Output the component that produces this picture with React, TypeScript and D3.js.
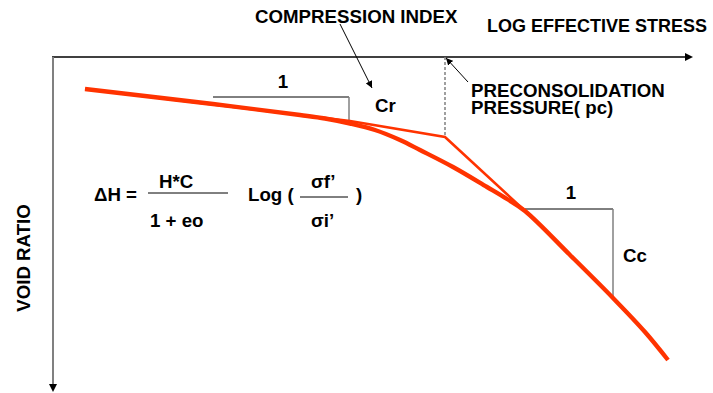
import React from "react";
import * as d3 from "d3";

// Abstract units: log effective stress (x) and void ratio (y)
const virginLogStress = [3.2, 16.0, 24.7, 27.2, 29.7, 32.2, 34.7, 36.7, 40.0, 43.4, 45.4, 47.2, 51.7, 56.0, 59.2, 61.5];
const virginVoidRatio = [30.2, 28.7, 27.6, 27.25, 26.75, 26.1, 25.1, 24.1, 22.4, 20.4, 19.2, 18.0, 13.6, 9.3, 5.9, 3.1];

const bilinearLogStress = [3.2, 29.7, 39.2, 47.0];
const bilinearVoidRatio = [30.2, 27.0, 25.4, 18.2];

const preconsolidation = 39.2;
const crTriangle = { x0: 16.0, x1: 29.6, y0: 29.4, y1: 27.0 };
const ccTriangle = { x0: 47.2, x1: 56.0, y0: 18.2, y1: 9.4 };

const W = 713;
const H = 393;
const RED = "#ff3300";
const FONT = "'Liberation Sans', Arial, sans-serif";

export default function App() {
  const x = d3.scaleLinear().domain([0, 64]).range([53, 693]);
  const y = d3.scaleLinear().domain([0, 33.4]).range([391, 57]);

  const virgin = virginLogStress.map((v, i) => [v, virginVoidRatio[i]] as [number, number]);
  const bilinear = bilinearLogStress.map((v, i) => [v, bilinearVoidRatio[i]] as [number, number]);

  const curveGen = d3
    .line<[number, number]>()
    .x((d) => x(d[0]))
    .y((d) => y(d[1]))
    .curve(d3.curveCatmullRom.alpha(0.5));
  const lineGen = d3
    .line<[number, number]>()
    .x((d) => x(d[0]))
    .y((d) => y(d[1]));

  const axisY = y(33.4);
  const txt = { fontFamily: FONT, fontWeight: 700, fontSize: 18.7, fill: "#000" } as const;

  return (
    <svg
      width={W}
      height={H}
      style={{ position: "absolute", left: 0, top: 0, background: "#fff" }}
    >
      <defs>
        <marker id="ah" viewBox="0 0 10 10" refX="10" refY="5" markerWidth="7" markerHeight="7" orient="auto" markerUnits="userSpaceOnUse">
          <path d="M0,0 L10,5 L0,10 z" fill="#000" />
        </marker>
      </defs>

      {/* axes */}
      <line x1={52} y1={axisY} x2={686} y2={axisY} stroke="#000" strokeWidth={1.3} />
      <path d={`M685,${axisY - 4} L693,${axisY} L685,${axisY + 4} Z`} fill="#000" />
      <line x1={53} y1={axisY} x2={53} y2={385} stroke="#808080" strokeWidth={2} />
      <path d={`M49,384 L53,392 L57,384 Z`} fill="#000" />

      {/* preconsolidation dashed */}
      <line
        x1={x(preconsolidation)}
        y1={axisY}
        x2={x(preconsolidation)}
        y2={y(bilinearVoidRatio[2])}
        stroke="#808080"
        strokeWidth={1.5}
        strokeDasharray="3,2"
      />

      {/* slope triangles */}
      <line x1={x(crTriangle.x0)} y1={y(crTriangle.y0)} x2={x(crTriangle.x1)} y2={y(crTriangle.y0)} stroke="#000" strokeWidth={1} />
      <line x1={x(crTriangle.x1)} y1={y(crTriangle.y0)} x2={x(crTriangle.x1)} y2={y(crTriangle.y1)} stroke="#808080" strokeWidth={1.5} />
      <line x1={x(ccTriangle.x0)} y1={y(ccTriangle.y0)} x2={x(ccTriangle.x1)} y2={y(ccTriangle.y0)} stroke="#000" strokeWidth={1} />
      <line x1={x(ccTriangle.x1)} y1={y(ccTriangle.y0)} x2={x(ccTriangle.x1)} y2={y(ccTriangle.y1)} stroke="#808080" strokeWidth={1.5} />

      {/* curves */}
      <path d={lineGen(bilinear) || ""} fill="none" stroke={RED} strokeWidth={2.6} strokeLinejoin="miter" />
      <path d={curveGen(virgin) || ""} fill="none" stroke={RED} strokeWidth={4.4} />

      {/* leader lines */}
      <line x1={340} y1={24} x2={372} y2={88} stroke="#000" strokeWidth={1} markerEnd="url(#ah)" />
      <line x1={468} y1={82} x2={446} y2={58} stroke="#000" strokeWidth={1} markerEnd="url(#ah)" />

      {/* labels */}
      <text x={255} y={23} style={txt}>COMPRESSION INDEX</text>
      <text x={487} y={32} style={{ ...txt, fontSize: 18 }}>LOG EFFECTIVE STRESS</text>
      <text x={471} y={97} style={txt}>PRECONSOLIDATION</text>
      <text x={471} y={114} style={txt}>PRESSURE( pc)</text>
      <text x={283} y={88} textAnchor="middle" style={txt}>1</text>
      <text x={375} y={112} style={txt}>Cr</text>
      <text x={571} y={199} textAnchor="middle" style={txt}>1</text>
      <text x={623} y={262} style={txt}>Cc</text>
      <text transform="translate(29.5,258) rotate(-90)" textAnchor="middle" style={txt}>VOID RATIO</text>

      {/* formula */}
      <text x={94} y={201} style={txt}>ΔH =</text>
      <text x={159} y={188} style={txt}>H*C</text>
      <line x1={148} y1={193} x2={228} y2={193} stroke="#000" strokeWidth={1} />
      <text x={150} y={227} style={txt}>1 + eo</text>
      <text x={248} y={201} style={txt}>Log (</text>
      <text x={311} y={188} style={txt}>σf’</text>
      <line x1={300} y1={197} x2={348} y2={197} stroke="#000" strokeWidth={1} />
      <text x={311} y={227} style={txt}>σi’</text>
      <text x={356} y={201} style={txt}>)</text>
    </svg>
  );
}
